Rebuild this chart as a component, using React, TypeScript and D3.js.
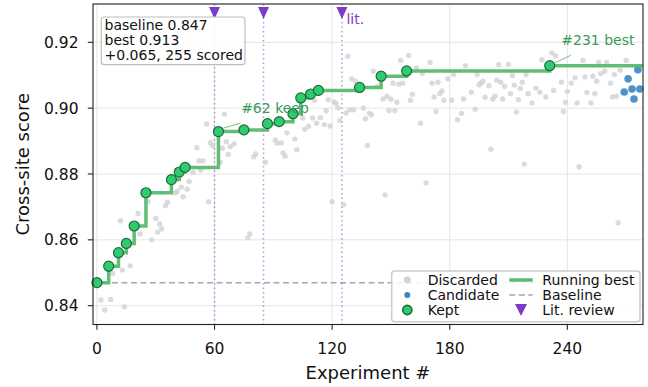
import { useEffect, useRef } from "react";
import * as d3 from "d3";

const WIDTH = 648;
const HEIGHT = 387;
const FONT = "DejaVu Sans";

// experiments that became the new running best
const keptExp = [0, 6, 11, 15, 19, 25, 38, 42, 45, 62, 75, 87, 93, 100, 104, 109, 113, 134, 145, 158, 231];
const keptScore = [
  0.847, 0.852, 0.8561, 0.8589, 0.8642, 0.8743, 0.8783, 0.8806, 0.882, 0.8929, 0.8934,
  0.8953, 0.8959, 0.8983, 0.9031, 0.9043, 0.9054, 0.9063, 0.9097, 0.9113, 0.9129,
];

// latest candidates, not yet decided
const candExp = [269, 271, 273, 274, 276, 277];
const candScore = [0.9049, 0.9089, 0.9058, 0.9028, 0.9117, 0.9058];

// discarded experiments
const discExp = [
  2, 4, 7, 8, 12, 13, 14, 17, 21, 22, 26, 28, 30, 31, 32, 33, 35, 36, 40, 41, 43, 44, 46, 47, 49,
  51, 52, 53, 54, 56, 57, 58, 59, 63, 64, 65, 66, 67, 68, 70, 77, 78, 80, 81, 86, 91, 92, 94, 95,
  96, 97, 101, 102, 105, 106, 108, 110, 111, 112, 114, 116, 117, 118, 119, 120, 121, 122, 123,
  124, 126, 127, 128, 129, 130, 131, 132, 136, 137, 138, 139, 140, 141, 143, 146, 147, 148, 149,
  150, 151, 152, 153, 154, 155, 156, 159, 160, 161, 163, 165, 166, 168, 170, 171, 172, 173, 174,
  175, 176, 177, 179, 181, 182, 184, 186, 187, 188, 191, 193, 194, 195, 196, 197, 198, 200, 201,
  202, 203, 204, 205, 206, 207, 208, 210, 211, 212, 213, 214, 215, 216, 217, 218, 219, 220, 222,
  224, 226, 227, 229, 232, 233, 234, 237, 238, 239, 240, 242, 244, 245, 246, 248, 249, 250, 252,
  253, 254, 255, 256, 257, 259, 260, 262, 263, 264, 265, 266, 267, 270,
];
const discScore = [
  0.8417, 0.8387, 0.8419, 0.8498, 0.8658, 0.8508, 0.8397, 0.8521, 0.868, 0.8618, 0.8716, 0.86,
  0.8665, 0.8623, 0.8648, 0.8633, 0.8704, 0.8714, 0.8743, 0.8747, 0.876, 0.8731, 0.8754, 0.8777,
  0.8805, 0.888, 0.884, 0.8812, 0.884, 0.8952, 0.8716, 0.8895, 0.8886, 0.8836, 0.8878, 0.8982,
  0.8898, 0.8859, 0.8883, 0.8891, 0.8606, 0.8618, 0.8852, 0.8861, 0.8836, 0.8903, 0.8894, 0.8894,
  0.8864, 0.8854, 0.8925, 0.8906, 0.8874, 0.897, 0.8936, 0.8945, 0.897, 0.9024, 0.8954, 0.8971,
  0.895, 0.8992, 0.9026, 0.8946, 0.8716, 0.9019, 0.9014, 0.9001, 0.8962, 0.8707, 0.8985, 0.9158,
  0.8995, 0.9089, 0.8995, 0.9082, 0.9, 0.8968, 0.8887, 0.8985, 0.898, 0.9112, 0.9066, 0.9028,
  0.8736, 0.9036, 0.8993, 0.9027, 0.9076, 0.8993, 0.9018, 0.9073, 0.9145, 0.9076, 0.916, 0.9024,
  0.9042, 0.9122, 0.8954, 0.9105, 0.8773, 0.9139, 0.9076, 0.9034, 0.899, 0.9079, 0.9044, 0.9052,
  0.9024, 0.9089, 0.9024, 0.9102, 0.8965, 0.8984, 0.9028, 0.9129, 0.9048, 0.8997, 0.9102, 0.9071,
  0.9076, 0.9082, 0.9033, 0.9068, 0.8875, 0.9028, 0.9036, 0.9085, 0.9132, 0.9079, 0.9028, 0.9066,
  0.9133, 0.9044, 0.9099, 0.907, 0.8988, 0.9026, 0.906, 0.9079, 0.883, 0.9102, 0.9044, 0.9016,
  0.9061, 0.9048, 0.9147, 0.9034, 0.9168, 0.9054, 0.9159, 0.9079, 0.899, 0.9018, 0.9051, 0.9076,
  0.9092, 0.9016, 0.8822, 0.9145, 0.9095, 0.9048, 0.9016, 0.9097, 0.9044, 0.9082, 0.9139, 0.9105,
  0.9112, 0.9139, 0.9076, 0.9034, 0.9102, 0.9036, 0.8652, 0.9115, 0.9145,
];

const litReviews = [60, 85, 125];
const LIT_Y = 0.9289;
const BASELINE = 0.847;

const xTicks = [0, 60, 120, 180, 240];
const yTicks = [0.84, 0.86, 0.88, 0.9, 0.92];
const infoLines = ["baseline 0.847", "best 0.913", "+0.065, 255 scored"];

const GREEN_LINE = "#5ab96e";
const GREEN_FILL = "#2ecc71";
const GREEN_EDGE = "#1d6b38";
const GREEN_TEXT = "#399a5a";
const PURPLE = "#7d3cc8";
const BLUE = "#3a86c4";
const GREY_DOT = "#d2d2d2";

// downward triangle centred on its bounding box
const downTri = (w: number, h: number) => {
  const p = d3.path();
  p.moveTo(-w / 2, -h / 2);
  p.lineTo(w / 2, -h / 2);
  p.lineTo(0, h / 2);
  p.closePath();
  return p.toString();
};

export default function App() {
  const svgRef = useRef<SVGSVGElement>(null);

  useEffect(() => {
    const svg = d3.select(svgRef.current);
    svg.selectAll("*").remove();

    const left = 93, right = 643, top = 4, bottom = 324.5;
    const x = d3.scaleLinear().domain([-2, 278.6]).range([left, right]);
    const y = d3.scaleLinear().domain([0.83428, 0.93164]).range([bottom, top]);

    const plot = svg.append("g");

    // grid
    plot.selectAll(".gx").data(xTicks).join("line")
      .attr("x1", (d) => x(d)).attr("x2", (d) => x(d))
      .attr("y1", top).attr("y2", bottom)
      .attr("stroke", "#e5e5e5").attr("stroke-width", 1);
    plot.selectAll(".gy").data(yTicks).join("line")
      .attr("x1", left).attr("x2", right)
      .attr("y1", (d) => y(d)).attr("y2", (d) => y(d))
      .attr("stroke", "#e5e5e5").attr("stroke-width", 1);

    // baseline
    plot.append("line")
      .attr("x1", left).attr("x2", right)
      .attr("y1", y(BASELINE)).attr("y2", y(BASELINE))
      .attr("stroke", "#a3a7ab").attr("stroke-width", 1.5)
      .attr("stroke-dasharray", "6,3.5");

    // lit. review markers
    plot.selectAll(".lit").data(litReviews).join("line")
      .attr("x1", (d) => x(d)).attr("x2", (d) => x(d))
      .attr("y1", top).attr("y2", bottom)
      .attr("stroke", PURPLE).attr("stroke-opacity", 0.55)
      .attr("stroke-width", 1.5).attr("stroke-dasharray", "1.5,3");

    // discarded
    plot.selectAll(".disc").data(discExp).join("circle")
      .attr("cx", (d) => x(d)).attr("cy", (d, i) => y(discScore[i]))
      .attr("r", 2.7).attr("fill", GREY_DOT).attr("fill-opacity", 0.8);

    // candidates
    plot.selectAll(".cand").data(candExp).join("circle")
      .attr("cx", (d) => x(d)).attr("cy", (d, i) => y(candScore[i]))
      .attr("r", 3.8).attr("fill", BLUE).attr("fill-opacity", 0.9);

    // running best
    const stepPts: [number, number][] = keptExp.map((d, i) => [d, keptScore[i]]);
    stepPts.push([x.domain()[1], keptScore[keptScore.length - 1]]);
    const step = d3.line<[number, number]>()
      .x((d) => x(d[0])).y((d) => y(d[1]))
      .curve(d3.curveStepAfter);
    plot.append("path").attr("d", step(stepPts))
      .attr("fill", "none").attr("stroke", GREEN_LINE)
      .attr("stroke-width", 3.5).attr("stroke-opacity", 0.95);

    // kept
    plot.selectAll(".kept").data(keptExp).join("circle")
      .attr("cx", (d) => x(d)).attr("cy", (d, i) => y(keptScore[i]))
      .attr("r", 5).attr("fill", GREEN_FILL)
      .attr("stroke", GREEN_EDGE).attr("stroke-width", 1.2);

    // triangles at top
    plot.selectAll(".tri").data(litReviews).join("path")
      .attr("d", downTri(11, 12))
      .attr("transform", (d) => `translate(${x(d)},${y(LIT_Y)})`)
      .attr("fill", PURPLE);
    plot.append("text")
      .attr("x", x(litReviews[2]) + 4.5).attr("y", 24)
      .attr("font-size", 14).attr("fill", PURPLE)
      .text("lit.");

    // annotations
    const notes = [
      { exp: 62, label: "#62 keep", dx: 22.7, dy: -18.4, l0: [5, -3.4], l1: [22, -8.4] },
      { exp: 231, label: "#231 best", dx: 11.6, dy: -20.4, l0: [5, -2.7], l1: [21, -10.4] },
    ];
    notes.forEach((n) => {
      const i = keptExp.indexOf(n.exp);
      const px = x(n.exp), py = y(keptScore[i]);
      plot.append("line")
        .attr("x1", px + n.l0[0]).attr("y1", py + n.l0[1])
        .attr("x2", px + n.l1[0]).attr("y2", py + n.l1[1])
        .attr("stroke", GREEN_LINE).attr("stroke-width", 0.9);
      plot.append("text")
        .attr("x", px + n.dx).attr("y", py + n.dy)
        .attr("font-size", 14).attr("fill", GREEN_TEXT)
        .text(n.label);
    });

    // frame
    plot.append("rect")
      .attr("x", left).attr("y", top)
      .attr("width", right - left).attr("height", bottom - top)
      .attr("fill", "none").attr("stroke", "#222").attr("stroke-width", 1.1);

    // x axis
    const xa = svg.append("g");
    xa.selectAll("line").data(xTicks).join("line")
      .attr("x1", (d) => x(d)).attr("x2", (d) => x(d))
      .attr("y1", bottom).attr("y2", bottom + 5.2)
      .attr("stroke", "#222").attr("stroke-width", 1.1);
    xa.selectAll("text").data(xTicks).join("text")
      .attr("x", (d) => x(d)).attr("y", 353.5)
      .attr("text-anchor", "middle").attr("font-size", 15.5).attr("fill", "#111")
      .text((d) => d3.format("d")(d));
    svg.append("text")
      .attr("x", (left + right) / 2).attr("y", 379)
      .attr("text-anchor", "middle").attr("font-size", 18).attr("fill", "#111")
      .text("Experiment #");

    // y axis
    const ya = svg.append("g");
    ya.selectAll("line").data(yTicks).join("line")
      .attr("x1", left - 5.2).attr("x2", left)
      .attr("y1", (d) => y(d)).attr("y2", (d) => y(d))
      .attr("stroke", "#222").attr("stroke-width", 1.1);
    ya.selectAll("text").data(yTicks).join("text")
      .attr("x", 78.5).attr("y", (d) => y(d))
      .attr("dy", "0.36em")
      .attr("text-anchor", "end").attr("font-size", 15.5).attr("fill", "#111")
      .text((d) => d3.format(".2f")(d));
    svg.append("text")
      .attr("transform", `translate(29,${(top + bottom) / 2}) rotate(-90)`)
      .attr("text-anchor", "middle").attr("font-size", 18).attr("fill", "#111")
      .text("Cross-site score");

    // info box
    const info = svg.append("g");
    info.append("rect")
      .attr("x", 101.3).attr("y", 17).attr("width", 143.7).attr("height", 47.7)
      .attr("rx", 3).attr("fill", "white").attr("fill-opacity", 0.9)
      .attr("stroke", "#bdbdbd").attr("stroke-width", 1.2);
    info.selectAll("text").data(infoLines).join("text")
      .attr("x", 104.5).attr("y", (d, i) => 29.7 + i * 15)
      .attr("font-size", 14).attr("fill", "#111")
      .text((d) => d);

    // legend
    const lg = svg.append("g");
    lg.append("rect")
      .attr("x", 391.7).attr("y", 271).attr("width", 248.3).attr("height", 50.7)
      .attr("rx", 3).attr("fill", "white").attr("fill-opacity", 0.85)
      .attr("stroke", "#cccccc").attr("stroke-width", 1.5);
    const rowY = (r: number) => 280 + r * 15;
    const c1 = 407.3, c2a = 509.3, c2b = 532.7;
    lg.append("circle").attr("cx", c1).attr("cy", rowY(0)).attr("r", 3.4).attr("fill", GREY_DOT);
    lg.append("circle").attr("cx", c1).attr("cy", rowY(1)).attr("r", 3).attr("fill", BLUE);
    lg.append("circle").attr("cx", c1).attr("cy", rowY(2)).attr("r", 4.6)
      .attr("fill", GREEN_FILL).attr("stroke", GREEN_EDGE).attr("stroke-width", 1.6);
    lg.append("line").attr("x1", c2a).attr("x2", c2b).attr("y1", rowY(0)).attr("y2", rowY(0))
      .attr("stroke", GREEN_LINE).attr("stroke-width", 3.5);
    lg.append("line").attr("x1", c2a).attr("x2", c2b).attr("y1", rowY(1)).attr("y2", rowY(1))
      .attr("stroke", "#a3a7ab").attr("stroke-width", 1.5).attr("stroke-dasharray", "6,3.5");
    lg.append("path").attr("d", downTri(12, 12))
      .attr("transform", `translate(${(c2a + c2b) / 2},${rowY(2)})`)
      .attr("fill", PURPLE);
    const labels = [
      ["Discarded", 427.7, 0], ["Candidate", 427.7, 1], ["Kept", 427.7, 2],
      ["Running best", 542.3, 0], ["Baseline", 542.3, 1], ["Lit. review", 542.3, 2],
    ] as [string, number, number][];
    lg.selectAll("text").data(labels).join("text")
      .attr("x", (d) => d[1]).attr("y", (d) => rowY(d[2]) + 5)
      .attr("font-size", 14).attr("fill", "#111")
      .text((d) => d[0]);
  }, []);

  return (
    <svg
      ref={svgRef}
      width={WIDTH}
      height={HEIGHT}
      style={{ position: "absolute", left: 0, top: 0, fontFamily: FONT, background: "white" }}
    />
  );
}
